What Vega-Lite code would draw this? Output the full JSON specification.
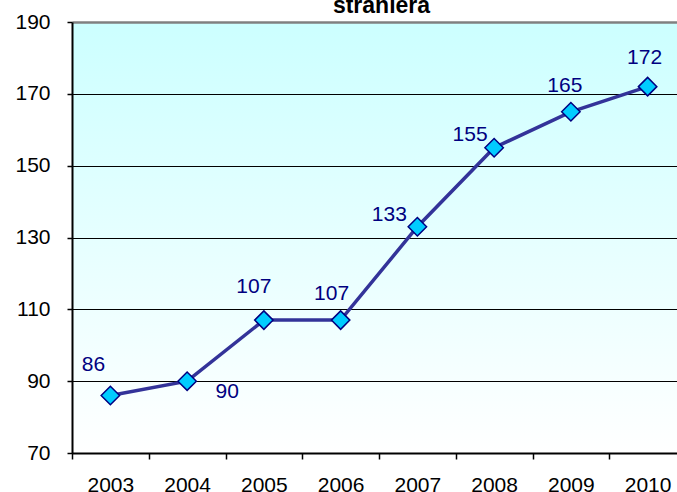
{
  "$schema": "https://vega.github.io/schema/vega-lite/v6.json",
  "autosize": {"type": "none"},
  "padding": {"left": 72, "top": 22, "right": 0, "bottom": 39},
  "width": 605,
  "height": 431,
  "background": "white",
  "title": {
    "text": "straniera",
    "frame": "group",
    "anchor": "middle",
    "offset": 0,
    "baseline": "alphabetic",
    "font": "Liberation Sans",
    "fontSize": 23,
    "fontWeight": "bold",
    "color": "black",
    "dx": 7,
    "dy": 25
  },
  "config": {
    "view": {
      "stroke": null,
      "fill": {
        "gradient": "linear",
        "x1": 0, "y1": 0, "x2": 0, "y2": 1,
        "stops": [
          {"offset": 0, "color": "#CCFFFF"},
          {"offset": 1, "color": "#FFFFFF"}
        ]
      }
    },
    "font": "Liberation Sans"
  },
  "data": {
    "values": [
      {"year": "2003", "value": 86},
      {"year": "2004", "value": 90},
      {"year": "2005", "value": 107},
      {"year": "2006", "value": 107},
      {"year": "2007", "value": 133},
      {"year": "2008", "value": 155},
      {"year": "2009", "value": 165},
      {"year": "2010", "value": 172}
    ]
  },
  "encoding": {
    "x": {
      "field": "year",
      "type": "ordinal",
      "scale": {"type": "band", "paddingInner": 0, "paddingOuter": 0, "range": [0, 614]},
      "axis": {
        "title": null,
        "labelAngle": 0,
        "labelFontSize": 21,
        "labelColor": "black",
        "labelFont": "Liberation Sans",
        "labelPadding": 15,
        "labelBaseline": "top",
        "tickBand": "extent",
        "tickSize": 6,
        "tickColor": "black",
        "tickWidth": 1.5,
        "domainColor": "black",
        "domainWidth": 2,
        "grid": false
      }
    },
    "y": {
      "field": "value",
      "type": "quantitative",
      "scale": {"domain": [70, 190], "nice": false, "zero": false},
      "axis": {
        "title": null,
        "values": [70, 90, 110, 130, 150, 170, 190],
        "labelFontSize": 21,
        "labelColor": "black",
        "labelFont": "Liberation Sans",
        "labelPadding": 17,
        "tickSize": 5,
        "tickColor": "black",
        "tickWidth": 1.5,
        "domainColor": "black",
        "domainWidth": 2,
        "grid": true,
        "gridColor": {"condition": {"test": "datum.value === 190", "value": "#808080"}, "value": "black"},
        "gridWidth": {"condition": {"test": "datum.value === 190", "value": 2.5}, "value": 1.2},
        "gridOpacity": 1
      }
    }
  },
  "layer": [
    {"mark": {"type": "line", "color": "#333399", "strokeWidth": 3.5}},
    {"mark": {"type": "point", "shape": "diamond", "filled": true, "fill": "#00CCFF", "stroke": "#000080", "strokeWidth": 1.5, "size": 340, "opacity": 1}},
    {"transform": [{"filter": "datum.year == '2003'"}], "mark": {"type": "text", "fontSize": 21, "color": "#000080", "baseline": "middle", "align": "center", "dx": -17, "dy": -31}, "encoding": {"text": {"field": "value"}}},
    {"transform": [{"filter": "datum.year == '2004'"}], "mark": {"type": "text", "fontSize": 21, "color": "#000080", "baseline": "middle", "align": "center", "dx": 40, "dy": 11}, "encoding": {"text": {"field": "value"}}},
    {"transform": [{"filter": "datum.year == '2005'"}], "mark": {"type": "text", "fontSize": 21, "color": "#000080", "baseline": "middle", "align": "center", "dx": -10, "dy": -33}, "encoding": {"text": {"field": "value"}}},
    {"transform": [{"filter": "datum.year == '2006'"}], "mark": {"type": "text", "fontSize": 21, "color": "#000080", "baseline": "middle", "align": "center", "dx": -9, "dy": -26}, "encoding": {"text": {"field": "value"}}},
    {"transform": [{"filter": "datum.year == '2007'"}], "mark": {"type": "text", "fontSize": 21, "color": "#000080", "baseline": "middle", "align": "center", "dx": -28, "dy": -12}, "encoding": {"text": {"field": "value"}}},
    {"transform": [{"filter": "datum.year == '2008'"}], "mark": {"type": "text", "fontSize": 21, "color": "#000080", "baseline": "middle", "align": "center", "dx": -24, "dy": -13}, "encoding": {"text": {"field": "value"}}},
    {"transform": [{"filter": "datum.year == '2009'"}], "mark": {"type": "text", "fontSize": 21, "color": "#000080", "baseline": "middle", "align": "center", "dx": -6, "dy": -26}, "encoding": {"text": {"field": "value"}}},
    {"transform": [{"filter": "datum.year == '2010'"}], "mark": {"type": "text", "fontSize": 21, "color": "#000080", "baseline": "middle", "align": "center", "dx": -3, "dy": -29}, "encoding": {"text": {"field": "value"}}}
  ]
}
